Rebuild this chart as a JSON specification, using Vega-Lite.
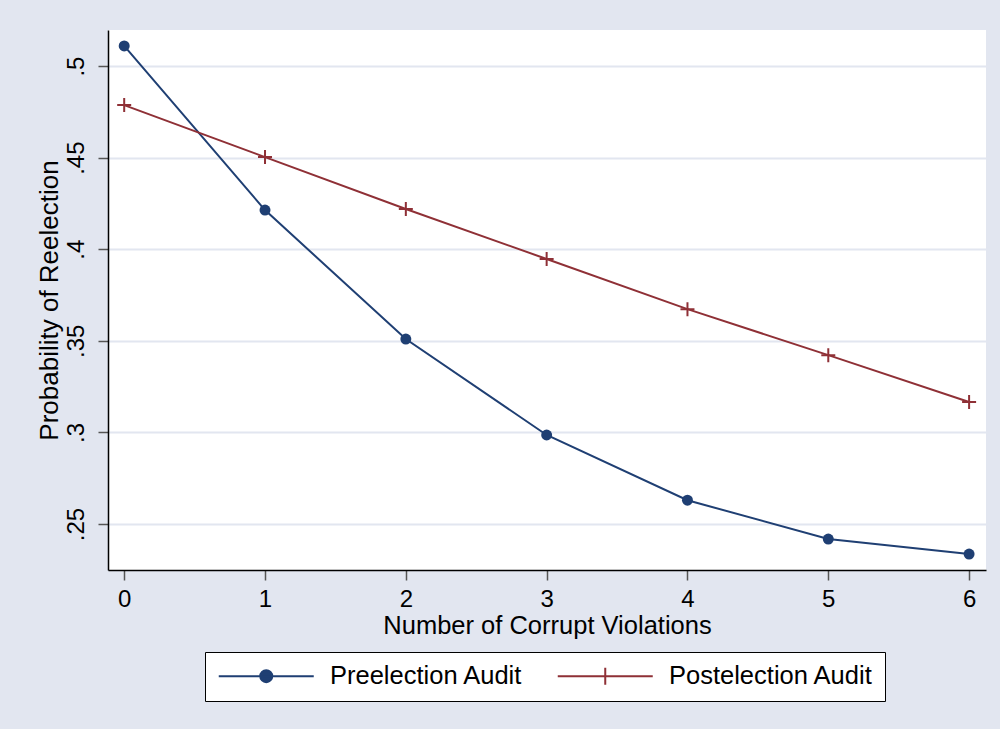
{
  "$schema": "https://vega.github.io/schema/vega-lite/v6.json",
  "width": 878,
  "height": 540,
  "autosize": {"type": "none"},
  "padding": {"left": 108, "top": 30, "right": 14, "bottom": 159},
  "background": "#e2e6f0",
  "config": {
    "view": {"stroke": null, "fill": "white"},
    "font": "Liberation Sans"
  },
  "data": {
    "values": [
      {"x": 0, "p": 0.511, "series": "Preelection Audit"},
      {"x": 1, "p": 0.4214, "series": "Preelection Audit"},
      {"x": 2, "p": 0.351, "series": "Preelection Audit"},
      {"x": 3, "p": 0.2986, "series": "Preelection Audit"},
      {"x": 4, "p": 0.263, "series": "Preelection Audit"},
      {"x": 5, "p": 0.2418, "series": "Preelection Audit"},
      {"x": 6, "p": 0.2336, "series": "Preelection Audit"},
      {"x": 0, "p": 0.4787, "series": "Postelection Audit"},
      {"x": 1, "p": 0.4503, "series": "Postelection Audit"},
      {"x": 2, "p": 0.422, "series": "Postelection Audit"},
      {"x": 3, "p": 0.3947, "series": "Postelection Audit"},
      {"x": 4, "p": 0.3673, "series": "Postelection Audit"},
      {"x": 5, "p": 0.3422, "series": "Postelection Audit"},
      {"x": 6, "p": 0.3166, "series": "Postelection Audit"}
    ]
  },
  "encoding": {
    "x": {
      "field": "x",
      "type": "quantitative",
      "scale": {"domain": [-0.115, 6.12], "nice": false, "zero": false},
      "axis": {
        "values": [0, 1, 2, 3, 4, 5, 6],
        "title": "Number of Corrupt Violations",
        "titleFontSize": 25.5,
        "titleFontWeight": "normal",
        "titleColor": "black",
        "titlePadding": 2,
        "labelFontSize": 24,
        "labelColor": "black",
        "labelPadding": 7,
        "labelFlush": false,
        "tickSize": 10,
        "tickColor": "#555555",
        "tickWidth": 1.5,
        "domainColor": "black",
        "domainWidth": 1.5,
        "grid": false
      }
    },
    "y": {
      "field": "p",
      "type": "quantitative",
      "scale": {"domain": [0.2249, 0.5197], "nice": false, "zero": false},
      "axis": {
        "values": [0.25, 0.3, 0.35, 0.4, 0.45, 0.5],
        "labelExpr": "substring(format(datum.value, '.2~f'), 1)",
        "title": "Probability of Reelection",
        "titleFontSize": 26,
        "titleFontWeight": "normal",
        "titleColor": "black",
        "titlePadding": 2,
        "labelFontSize": 24,
        "labelColor": "black",
        "labelAngle": 270,
        "labelAlign": "center",
        "labelBaseline": "bottom",
        "labelPadding": 10,
        "labelFlush": false,
        "tickSize": 10,
        "tickColor": "#555555",
        "tickWidth": 1.5,
        "domainColor": "black",
        "domainWidth": 1.5,
        "grid": true,
        "gridColor": "#e2e6f0",
        "gridWidth": 2
      }
    },
    "color": {
      "field": "series",
      "type": "nominal",
      "scale": {
        "domain": ["Preelection Audit", "Postelection Audit"],
        "range": ["#1f3f73", "#8f3036"]
      },
      "legend": {
        "orient": "none",
        "legendX": 97,
        "legendY": 622,
        "direction": "horizontal",
        "title": null,
        "labelFontSize": 25.5,
        "labelColor": "black",
        "labelFont": "Liberation Sans",
        "labelLimit": 0,
        "symbolSize": 400,
        "symbolStrokeWidth": 2,
        "symbolOffset": 37.5,
        "labelOffset": 51,
        "columnPadding": 30,
        "padding": 11,
        "strokeColor": "black",
        "fillColor": "white",
        "encode": {
          "symbols": {
            "enter": {
              "shape": {"signal": "datum.value === 'Preelection Audit' ? 'M-4.75,0L4.75,0M-0.6,0A0.6,0.6,0,1,1,0.6,0A0.6,0.6,0,1,1,-0.6,0Z' : 'M-4.75,0L4.75,0M0,-0.85L0,0.85'"},
              "fill": {"signal": "scale('color', datum.value)"},
              "stroke": {"signal": "scale('color', datum.value)"}
            },
            "update": {
              "shape": {"signal": "datum.value === 'Preelection Audit' ? 'M-4.75,0L4.75,0M-0.6,0A0.6,0.6,0,1,1,0.6,0A0.6,0.6,0,1,1,-0.6,0Z' : 'M-4.75,0L4.75,0M0,-0.85L0,0.85'"},
              "fill": {"signal": "scale('color', datum.value)"},
              "stroke": {"signal": "scale('color', datum.value)"},
              "opacity": {"value": 1},
              "fillOpacity": {"value": 1},
              "strokeOpacity": {"value": 1}
            }
          }
        }
      }
    }
  },
  "layer": [
    {"mark": {"type": "line", "strokeWidth": 2}},
    {
      "transform": [{"filter": "datum.series === 'Preelection Audit'"}],
      "mark": {"type": "point", "shape": "circle", "filled": true, "size": 120, "strokeWidth": 1.5, "opacity": 1}
    },
    {
      "transform": [{"filter": "datum.series === 'Postelection Audit'"}],
      "mark": {"type": "point", "shape": "M-1.4,0L1.4,0M0,-1.4L0,1.4", "filled": false, "size": 100, "strokeWidth": 2, "opacity": 1}
    }
  ]
}
